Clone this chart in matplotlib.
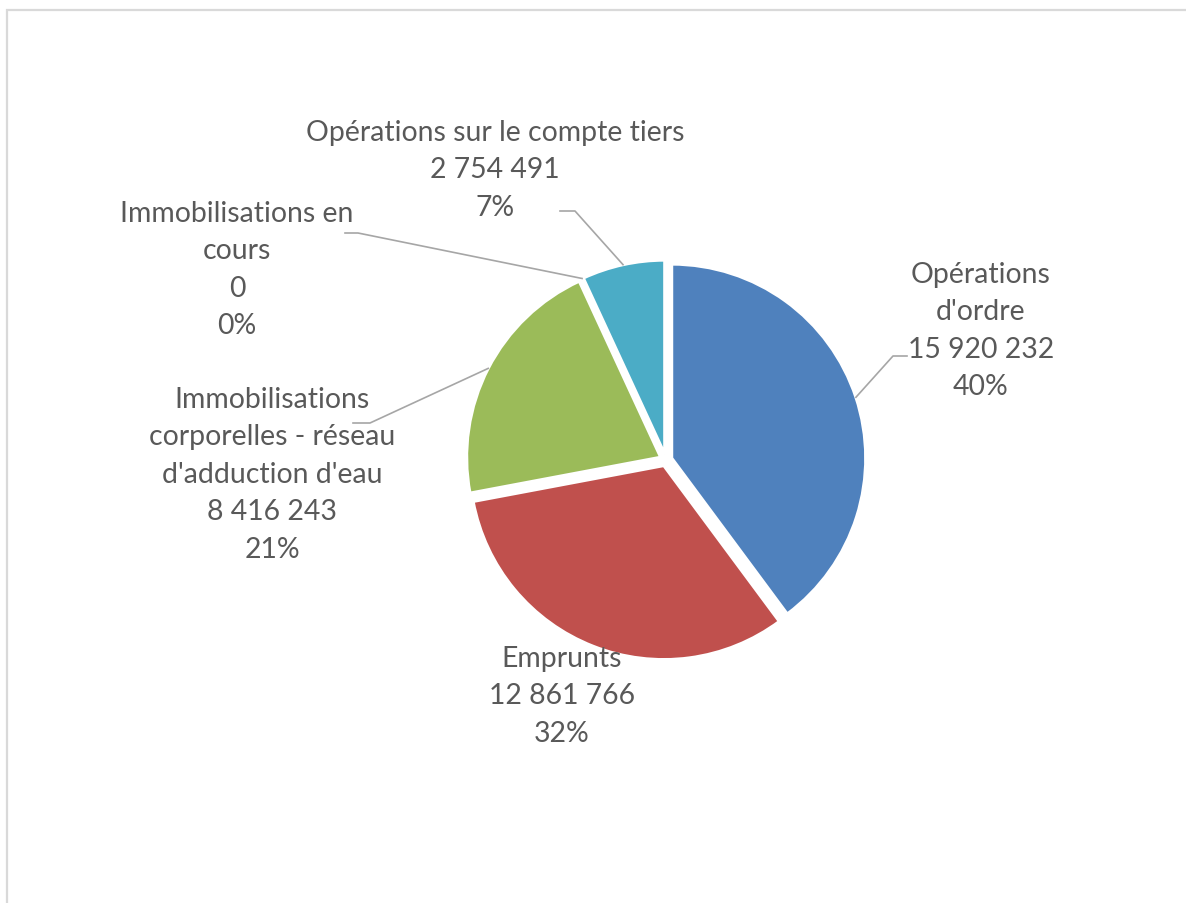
import numpy as np
import matplotlib.pyplot as plt

# Données du graphique
labels = ["Opérations\nd'ordre",
          "Emprunts",
          "Immobilisations\ncorporelles - réseau\nd'adduction d'eau",
          "Immobilisations en\ncours",
          "Opérations sur le compte tiers"]
values = [15920232, 12861766, 8416243, 0, 2754491]
colors = ['#4F81BD', '#C0504D', '#9BBB59', '#8064A2', '#4BACC6']

W, H = 1186, 904
def Y(y):
    return H - y

total = sum(values)

def fmt(v):
    return f"{v:,}".replace(",", " ")

fig = plt.figure(figsize=(W / 100, H / 100), dpi=100)
ax = fig.add_axes([0, 0, 1, 1])

r = 194
cx, cy = 666, Y(461)
wedges, _ = ax.pie(values, radius=r, center=(cx, cy), startangle=90, counterclock=False,
                   colors=colors, explode=[6] * len(values),
                   wedgeprops=dict(edgecolor='white', linewidth=2.2))

ax.set_xlim(0, W)
ax.set_ylim(0, H)
ax.set_aspect('equal')
ax.axis('off')

# cadre gris
ax.plot([7, 7, W], [Y(H), Y(11), Y(11)], color='#D9D9D9', lw=1.6, solid_joinstyle='miter')

# position des étiquettes (centre de la 1re ligne) et coudes des lignes de rappel
label_pos = [(981, 275), (562, 659), (272, 400), (237, 214), (495, 133)]
leaders = [[(907, 357), (893, 357)],
           None,
           [(353, 424), (370, 424)],
           [(345, 234), (358, 234)],
           [(560, 212), (575, 212)]]

line_h = 37.4
for i, w in enumerate(wedges):
    pct = round(values[i] / total * 100)
    lines = labels[i].split("\n") + [fmt(values[i]), f"{pct}%"]
    x0, y0 = label_pos[i]
    for k, s in enumerate(lines):
        ax.text(x0, Y(y0 + k * line_h), s, ha='center', va='center',
                fontsize=20.4, family='Lato', color='#595959')
    if leaders[i] is not None:
        tm = np.deg2rad((w.theta1 + w.theta2) / 2)
        ex, ey = w.center[0] + r * np.cos(tm), w.center[1] + r * np.sin(tm)
        pts = [(px, Y(py)) for px, py in leaders[i]] + [(ex, ey)]
        ax.plot([p[0] for p in pts], [p[1] for p in pts], color='#A6A6A6', lw=1.2)

plt.savefig('out.png', dpi=100)
